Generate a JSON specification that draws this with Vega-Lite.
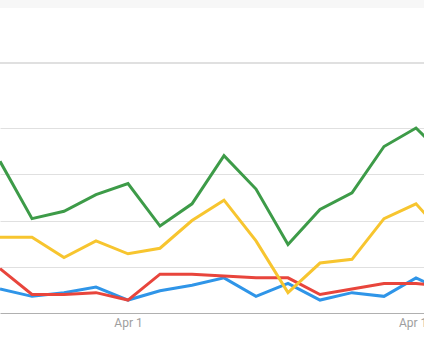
{
  "$schema": "https://vega.github.io/schema/vega-lite/v6.json",
  "width": 424,
  "height": 313,
  "autosize": {"type": "none"},
  "padding": {"left": 0, "right": 0, "top": 0, "bottom": 41},
  "background": "white",
  "config": {"view": {"stroke": null}},
  "data": {
    "values": [
      {"date": "2018-03-28", "series": "a_blue", "value": 13},
      {"date": "2018-03-29", "series": "a_blue", "value": 9},
      {"date": "2018-03-30", "series": "a_blue", "value": 11},
      {"date": "2018-03-31", "series": "a_blue", "value": 14},
      {"date": "2018-04-01", "series": "a_blue", "value": 7},
      {"date": "2018-04-02", "series": "a_blue", "value": 12},
      {"date": "2018-04-03", "series": "a_blue", "value": 15},
      {"date": "2018-04-04", "series": "a_blue", "value": 19},
      {"date": "2018-04-05", "series": "a_blue", "value": 9},
      {"date": "2018-04-06", "series": "a_blue", "value": 16},
      {"date": "2018-04-07", "series": "a_blue", "value": 7},
      {"date": "2018-04-08", "series": "a_blue", "value": 11},
      {"date": "2018-04-09", "series": "a_blue", "value": 9},
      {"date": "2018-04-10", "series": "a_blue", "value": 19},
      {"date": "2018-04-11", "series": "a_blue", "value": 11},
      {"date": "2018-03-28", "series": "b_red", "value": 24},
      {"date": "2018-03-29", "series": "b_red", "value": 10},
      {"date": "2018-03-30", "series": "b_red", "value": 10},
      {"date": "2018-03-31", "series": "b_red", "value": 11},
      {"date": "2018-04-01", "series": "b_red", "value": 7},
      {"date": "2018-04-02", "series": "b_red", "value": 21},
      {"date": "2018-04-03", "series": "b_red", "value": 21},
      {"date": "2018-04-04", "series": "b_red", "value": 20},
      {"date": "2018-04-05", "series": "b_red", "value": 19},
      {"date": "2018-04-06", "series": "b_red", "value": 19},
      {"date": "2018-04-07", "series": "b_red", "value": 10},
      {"date": "2018-04-08", "series": "b_red", "value": 13},
      {"date": "2018-04-09", "series": "b_red", "value": 16},
      {"date": "2018-04-10", "series": "b_red", "value": 16},
      {"date": "2018-04-11", "series": "b_red", "value": 14},
      {"date": "2018-03-28", "series": "c_yellow", "value": 41},
      {"date": "2018-03-29", "series": "c_yellow", "value": 41},
      {"date": "2018-03-30", "series": "c_yellow", "value": 30},
      {"date": "2018-03-31", "series": "c_yellow", "value": 39},
      {"date": "2018-04-01", "series": "c_yellow", "value": 32},
      {"date": "2018-04-02", "series": "c_yellow", "value": 35},
      {"date": "2018-04-03", "series": "c_yellow", "value": 50},
      {"date": "2018-04-04", "series": "c_yellow", "value": 61},
      {"date": "2018-04-05", "series": "c_yellow", "value": 39},
      {"date": "2018-04-06", "series": "c_yellow", "value": 11},
      {"date": "2018-04-07", "series": "c_yellow", "value": 27},
      {"date": "2018-04-08", "series": "c_yellow", "value": 29},
      {"date": "2018-04-09", "series": "c_yellow", "value": 51},
      {"date": "2018-04-10", "series": "c_yellow", "value": 59},
      {"date": "2018-04-11", "series": "c_yellow", "value": 40},
      {"date": "2018-03-28", "series": "d_green", "value": 82},
      {"date": "2018-03-29", "series": "d_green", "value": 51},
      {"date": "2018-03-30", "series": "d_green", "value": 55},
      {"date": "2018-03-31", "series": "d_green", "value": 64},
      {"date": "2018-04-01", "series": "d_green", "value": 70},
      {"date": "2018-04-02", "series": "d_green", "value": 47},
      {"date": "2018-04-03", "series": "d_green", "value": 59},
      {"date": "2018-04-04", "series": "d_green", "value": 85},
      {"date": "2018-04-05", "series": "d_green", "value": 67},
      {"date": "2018-04-06", "series": "d_green", "value": 37},
      {"date": "2018-04-07", "series": "d_green", "value": 56},
      {"date": "2018-04-08", "series": "d_green", "value": 65},
      {"date": "2018-04-09", "series": "d_green", "value": 90},
      {"date": "2018-04-10", "series": "d_green", "value": 100},
      {"date": "2018-04-11", "series": "d_green", "value": 83}
    ]
  },
  "layer": [
    {
      "mark": {"type": "rect", "color": "#f7f7f7", "clip": true},
      "encoding": {
        "y": {"datum": 164.9, "type": "quantitative", "scale": {"domain": [0, 169.2], "nice": false, "zero": true}},
        "y2": {"datum": 175}
      }
    },
    {
      "mark": {"type": "rule", "color": "#e0e0e0", "strokeWidth": 2},
      "encoding": {
        "y": {"datum": 135.1, "type": "quantitative"}
      }
    },
    {
      "mark": {"type": "line", "strokeWidth": 3, "clip": true, "strokeJoin": "miter"},
      "encoding": {
        "x": {
          "field": "date",
          "type": "temporal",
          "scale": {
            "type": "utc",
            "domain": [
              {"year": 2018, "month": 3, "date": 28, "utc": true},
              {"year": 2018, "month": 4, "date": 10, "hours": 6, "utc": true}
            ],
            "nice": false
          },
          "axis": {
            "title": null,
            "values": [
              {"year": 2018, "month": 4, "date": 1, "utc": true},
              {"year": 2018, "month": 4, "date": 10, "utc": true}
            ],
            "labelExpr": "utcFormat(datum.value, '%b %-d')",
            "grid": false,
            "ticks": false,
            "domain": true,
            "domainColor": "#b0b0b0",
            "domainWidth": 1,
            "labelFont": "Roboto",
            "labelFontSize": 12,
            "labelColor": "#9e9e9e",
            "labelPadding": 4,
            "labelFlush": false,
            "labelOverlap": false
          }
        },
        "y": {
          "field": "value",
          "type": "quantitative",
          "scale": {"domain": [0, 169.2], "nice": false, "zero": true},
          "axis": {
            "title": null,
            "values": [25, 50, 75, 100],
            "labels": false,
            "ticks": false,
            "domain": false,
            "grid": true,
            "gridColor": "#e0e0e0",
            "gridWidth": 1
          }
        },
        "color": {
          "field": "series",
          "type": "nominal",
          "scale": {
            "domain": ["a_blue", "b_red", "c_yellow", "d_green"],
            "range": ["#2f95e8", "#e8453c", "#f7c52f", "#3d9b48"]
          },
          "legend": null
        }
      }
    }
  ]
}
